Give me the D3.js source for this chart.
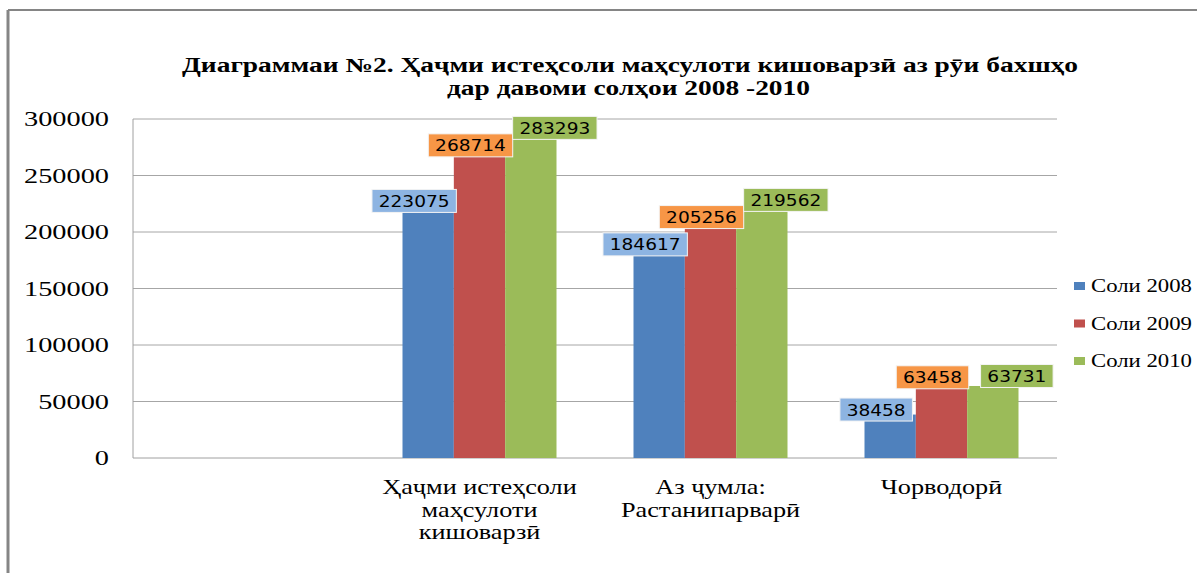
<!DOCTYPE html>
<html>
<head>
<meta charset="utf-8">
<script src="https://cdn.jsdelivr.net/npm/d3@7"></script>
<style>
  body { margin: 0; background: #fff; }
  svg { display: block; }
</style>
</head>
<body>
<div id="chart"></div>
<script>
// data
var categories = ["", "Ҳаҷми истеҳсоли маҳсулоти кишоварзӣ", "Аз ҷумла: Растанипарварӣ", "Чорводорӣ"]
var categoryLines = [[], ["Ҳаҷми истеҳсоли", "маҳсулоти", "кишоварзӣ"], ["Аз ҷумла:", "Растанипарварӣ"], ["Чорводорӣ"]]
var seriesNames = ["Соли 2008", "Соли 2009", "Соли 2010"]
var values2008 = [null, 223075, 184617, 38458]
var values2009 = [null, 268714, 205256, 63458]
var values2010 = [null, 283293, 219562, 63731]
var yTicks = [0, 50000, 100000, 150000, 200000, 250000, 300000]
var titleLines = ["Диаграммаи №2. Ҳаҷми истеҳсоли маҳсулоти кишоварзӣ аз рӯи бахшҳо", "дар давоми солҳои 2008 -2010"]

var barColors = ["#4F81BD", "#C0504D", "#9BBB59"]
var labelColors = ["#8DB4E2", "#F79646", "#9BBB59"]
// label box offsets from bar (center x, top y), per series
var labelDx = [-14, -9, 24]
var labelDy = [-5, -9, -10]

var W = 1197, H = 573
var plot = { left: 133, right: 1057, top: 119, bottom: 458 }

var svg = d3.select("#chart")
    .append("svg")
    .attr("width", W)
    .attr("height", H)

// outer frame
svg.append("line")
    .attr("x1", 8).attr("x2", 8).attr("y1", 10).attr("y2", H)
    .style("stroke", "#858585").style("stroke-width", 3)
svg.append("line")
    .attr("x1", 8).attr("x2", W).attr("y1", 10).attr("y2", 10)
    .style("stroke", "#858585").style("stroke-width", 2)

var x = d3.scaleBand()
    .domain(categories)
    .range([plot.left, plot.right])
    .padding(0)

var xs = d3.scaleBand()
    .domain(seriesNames)
    .range([0, x.bandwidth()])
    .paddingInner(0)
    .paddingOuter(0.75)

var y = d3.scaleLinear()
    .domain([0, 300000])
    .range([plot.bottom, plot.top])

// gridlines
svg.append("g").attr("class", "grid")
    .selectAll("line")
    .data(yTicks.slice(1))
    .enter()
    .append("line")
    .attr("x1", plot.left).attr("x2", plot.right)
    .attr("y1", function (d) { return y(d) }).attr("y2", function (d) { return y(d) })
    .style("stroke", "#a6a6a6").style("stroke-width", 1)

// axis lines
svg.append("line")
    .attr("x1", plot.left).attr("x2", plot.left).attr("y1", plot.top).attr("y2", plot.bottom)
    .style("stroke", "#a0a0a0")
svg.append("line")
    .attr("x1", plot.left).attr("x2", plot.right).attr("y1", plot.bottom).attr("y2", plot.bottom)
    .style("stroke", "#a0a0a0")

// y tick labels (stretched serif, like the picture)
svg.append("g").attr("class", "ytick")
    .selectAll("text")
    .data(yTicks)
    .enter()
    .append("text")
    .attr("transform", function (d) { return "translate(109," + (y(d) + 7) + ") scale(1.35,1)" })
    .attr("text-anchor", "end")
    .style("font-family", "'Liberation Serif', serif")
    .style("font-size", "21px")
    .style("fill", "#000")
    .text(function (d) { return d })

// bars
var seriesData = [values2008, values2009, values2010]
var rows = []
seriesData.forEach(function (vals, si) {
    vals.forEach(function (v, ci) {
        if (v != null) rows.push({ cat: categories[ci], series: seriesNames[si], si: si, value: v })
    })
})

svg.append("g").attr("class", "bars")
    .selectAll("rect")
    .data(rows)
    .enter()
    .append("rect")
    .attr("x", function (d) { return x(d.cat) + xs(d.series) })
    .attr("width", xs.bandwidth())
    .attr("y", function (d) { return y(d.value) })
    .attr("height", function (d) { return plot.bottom - y(d.value) })
    .style("fill", function (d) { return barColors[d.si] })

// data labels
var labels = svg.append("g").attr("class", "labels")
    .selectAll("g")
    .data(rows)
    .enter()
    .append("g")
    .attr("transform", function (d) {
        var cx = x(d.cat) + xs(d.series) + xs.bandwidth() / 2 + labelDx[d.si]
        var cy = y(d.value) + labelDy[d.si]
        return "translate(" + cx + "," + cy + ")"
    })

labels.append("rect")
    .attr("x", function (d) { return -(String(d.value).length * 11.9 + 13) / 2 })
    .attr("width", function (d) { return String(d.value).length * 11.9 + 13 })
    .attr("y", -11.5)
    .attr("height", 23)
    .style("fill", function (d) { return labelColors[d.si] })
    .style("stroke", "#f4f4f4")
    .style("stroke-width", 1)

labels.append("text")
    .attr("transform", "translate(0,6) scale(1.16,1)")
    .attr("text-anchor", "middle")
    .style("font-family", "'DejaVu Sans', sans-serif")
    .style("font-size", "16px")
    .style("fill", "#000")
    .text(function (d) { return d.value })

// category labels
var cats = svg.append("g").attr("class", "xlabels")
    .selectAll("g")
    .data(categories)
    .enter()
    .append("g")

cats.selectAll("text")
    .data(function (d, i) {
        return categoryLines[i].map(function (t, j) { return { text: t, line: j, cat: d } })
    })
    .enter()
    .append("text")
    .attr("transform", function (d) {
        return "translate(" + (x(d.cat) + x.bandwidth() / 2) + "," + (494 + d.line * 22.5) + ") scale(1.25,1)"
    })
    .attr("text-anchor", "middle")
    .style("font-family", "'Liberation Serif', serif")
    .style("font-size", "21px")
    .style("fill", "#000")
    .text(function (d) { return d.text })

// title
svg.append("text")
    .attr("x", 182).attr("y", 72)
    .attr("textLength", 896).attr("lengthAdjust", "spacingAndGlyphs")
    .style("font-family", "'Liberation Serif', serif")
    .style("font-weight", "bold")
    .style("font-size", "20px")
    .text(titleLines[0])
svg.append("text")
    .attr("x", 447).attr("y", 95)
    .attr("textLength", 363).attr("lengthAdjust", "spacingAndGlyphs")
    .style("font-family", "'Liberation Serif', serif")
    .style("font-weight", "bold")
    .style("font-size", "20px")
    .text(titleLines[1])

// legend
var legend = svg.append("g").attr("class", "legend")
    .selectAll("g")
    .data(seriesNames)
    .enter()
    .append("g")
    .attr("transform", function (d, i) { return "translate(1074," + (286 + i * 37.5) + ")" })

legend.append("rect")
    .attr("x", 0).attr("y", -4)
    .attr("width", 11).attr("height", 8)
    .style("fill", function (d, i) { return barColors[i] })

legend.append("text")
    .attr("x", 17).attr("y", 6)
    .attr("textLength", 101).attr("lengthAdjust", "spacingAndGlyphs")
    .style("font-family", "'Liberation Serif', serif")
    .style("font-size", "19px")
    .style("fill", "#000")
    .text(function (d) { return d })
</script>
</body>
</html>
